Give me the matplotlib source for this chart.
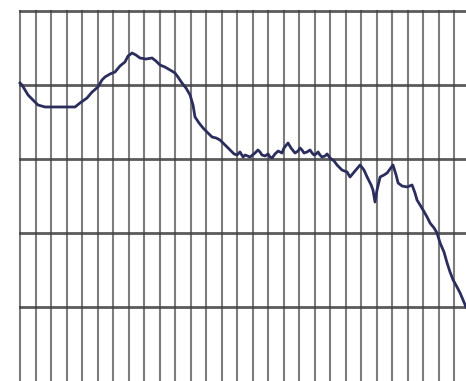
import matplotlib
matplotlib.use("Agg")
import matplotlib.pyplot as plt

# Response trace: position along the grid (divisions) and level (dB)
position = [0.00, 0.13, 0.52, 0.90, 1.16, 1.61, 2.26, 2.90, 3.55, 3.87, 4.32, 4.65,
            5.03, 5.29, 5.48, 5.81, 6.13, 6.45, 6.77, 6.97, 7.23, 7.48, 7.74, 8.13,
            8.52, 8.77, 9.03, 9.35, 9.68, 10.00, 10.19, 10.45, 10.71, 10.97, 11.16,
            11.29, 11.55, 11.81, 12.06, 12.39, 12.65, 12.90, 13.23, 13.55, 13.81,
            14.00, 14.19, 14.39, 14.52, 14.84, 15.16, 15.35, 15.48, 15.61, 15.81,
            16.00, 16.13, 16.26, 16.45, 16.65, 16.77, 16.90, 17.03, 17.29, 17.48,
            17.74, 17.94, 18.06, 18.19, 18.32, 18.52, 18.71, 18.84, 18.97, 19.10,
            19.23, 19.35, 19.48, 19.68, 19.81, 20.00,
            20.26, 20.45, 20.77, 21.10, 21.29, 21.61, 21.94, 22.19,
            22.39, 22.65, 22.77, 22.90, 23.03, 23.23, 23.48, 23.68, 23.87, 24.06,
            24.26, 24.39, 24.65, 24.97, 25.29, 25.48, 25.61, 25.81, 26.00, 26.26,
            26.45, 26.71, 26.90, 27.10, 27.35, 27.55, 27.74, 27.94, 28.19, 28.39,
            28.58, 28.77]
level_db = [-9.73, -10.00, -11.35, -12.16, -12.70, -12.97, -12.97, -12.97, -12.97,
            -12.43, -11.76, -10.95, -10.27, -9.32, -8.92, -8.51, -8.24, -7.43, -6.89,
            -6.08, -5.68, -5.95, -6.35, -6.49, -6.35, -6.76, -7.30, -7.57, -7.97,
            -8.38, -8.92, -9.73, -10.41, -11.35, -12.70, -14.32, -15.14, -15.81,
            -16.35, -17.03, -17.16, -17.43, -18.11, -18.78, -19.32,
            -19.46, -19.05, -19.73, -19.46, -19.73, -19.19, -18.78, -19.05, -19.46,
            -19.59, -19.32, -19.73, -19.86, -19.32, -18.92, -19.05, -19.19, -18.51,
            -17.84, -18.51, -19.19, -18.92, -18.51, -18.78, -19.19, -19.05, -18.78,
            -19.19, -19.46, -19.32, -19.05, -19.46, -19.73, -19.59, -19.32, -19.86,
            -20.27, -20.81, -21.49, -21.76, -22.43, -21.62, -20.81,
            -21.49, -22.43, -23.51, -24.19, -25.81, -24.19, -22.43, -22.16, -21.89,
            -21.35, -20.81, -22.16, -23.24, -23.65, -23.78, -23.51, -24.59, -25.54,
            -26.22, -26.89, -27.84, -28.65, -29.32, -30.00, -31.35, -32.57, -34.05,
            -35.27, -36.35, -37.30, -38.11, -39.05, -40.00]

vertical_divisions = list(range(0, 29))
level_lines = [0, -10, -20, -30, -40]

W, H = 466, 381
fig = plt.figure(figsize=(W / 100, H / 100), dpi=100)
fig.patch.set_facecolor("white")
ax = fig.add_axes([20 / W, 0, (W - 20) / W, 370 / H])
ax.set_xlim(0, 28.77)
ax.set_ylim(-50, 0)
ax.axis("off")

for xv in vertical_divisions:
    ax.axvline(xv, color="#666666", lw=1.5, alpha=0.85, clip_on=False, zorder=1)
for yv in level_lines:
    ax.axhline(yv, color="#3e3e3e", lw=2.0, alpha=0.85, clip_on=False, zorder=1)

ax.plot(position, level_db, color="#2b2d5c", lw=2.0, solid_joinstyle="round",
        zorder=3, clip_on=False)

fig.savefig("out.png", dpi=100, facecolor="white")
